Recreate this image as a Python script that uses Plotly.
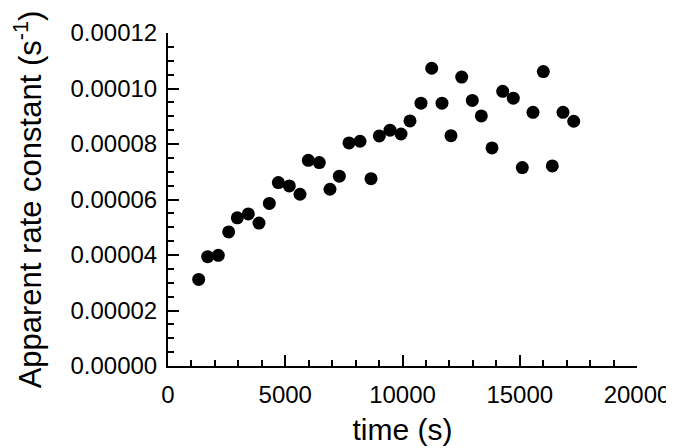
import plotly.graph_objects as go

time_s = [1308, 1692, 2146, 2587, 2956, 3426, 3881, 4321, 4705, 5174, 5629, 5984,
          6453, 6908, 7306, 7718, 8188, 8657, 9011, 9467, 9936, 10320, 10789, 11245,
          11684, 12068, 12524, 12977, 13361, 13817, 14273, 14725, 15109, 15565, 16005,
          16389, 16844, 17301]
k_app_e6 = [31.2, 39.4, 39.9, 48.3, 53.4, 54.8, 51.5, 58.6, 66.1, 64.9, 61.9, 74.1,
            73.3, 63.7, 68.4, 80.4, 81.0, 67.5, 82.9, 85.0, 83.6, 88.3, 94.7, 107.3,
            94.7, 83.0, 104.1, 95.7, 90.1, 78.6, 99.0, 96.5, 71.5, 91.4, 106.1,
            72.1, 91.4, 88.2]
k_app = [v * 1e-6 for v in k_app_e6]

x_ticks = [0, 5000, 10000, 15000, 20000]
y_ticks = [0, 0.00002, 0.00004, 0.00006, 0.00008, 0.00010, 0.00012]

font_family = "Liberation Sans, Arial, Helvetica, sans-serif"

fig = go.Figure(go.Scatter(
    x=time_s, y=k_app, mode="markers",
    marker=dict(color="black", size=13, line=dict(width=0)),
))

axis_common = dict(
    showline=True, linecolor="black", linewidth=2,
    ticks="inside", ticklen=11, tickwidth=2, tickcolor="black",
    showgrid=False, zeroline=False, mirror=False, automargin=False,
    tickfont=dict(family=font_family, size=24, color="black"),
)

fig.update_xaxes(
    range=[0, 20000], tickvals=x_ticks, tickformat="d",
    minor=dict(ticks="inside", ticklen=6, tickwidth=1.5, tickcolor="black", dtick=1000, showgrid=False),
    title=dict(text="time (s)", font=dict(family=font_family, size=30, color="black"), standoff=12),
    ticklabelstandoff=6,
    **axis_common,
)
fig.update_yaxes(
    range=[0, 0.00012], tickvals=y_ticks, tickformat=".5f",
    minor=dict(ticks="inside", ticklen=6, tickwidth=1.5, tickcolor="black", dtick=0.000005, showgrid=False),
    title=dict(text="Apparent rate constant (s<sup>-1</sup>)",
               font=dict(family=font_family, size=31, color="black"), standoff=27),
    ticklabelstandoff=4,
    **axis_common,
)

fig.update_layout(
    width=674, height=448,
    margin=dict(l=160, r=45, t=25, b=90),
    plot_bgcolor="white", paper_bgcolor="white",
    showlegend=False,
)

fig.write_html("out.html")
